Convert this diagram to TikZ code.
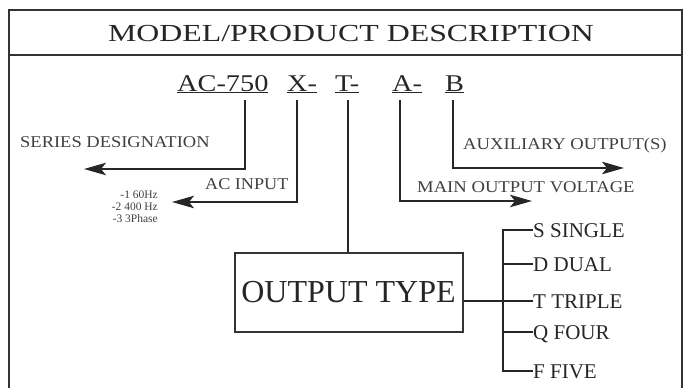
\documentclass[tikz,border=0pt]{standalone}
\usepackage{fontspec}
\setmainfont{Liberation Serif}
\usetikzlibrary{arrows.meta}
\newcommand{\hsx}[2]{\scalebox{#1}[1]{#2}}
\begin{document}
\begin{tikzpicture}[x=1pt,y=-1pt,
  txt/.style={inner sep=0pt,anchor=base west,text=black!88},
  ttl/.style={inner sep=0pt,anchor=base,font=\fontsize{24.5}{24.5}\selectfont,text=black!85},
  code/.style={inner sep=0pt,anchor=base west,font=\fontsize{24}{24}\selectfont,text=black!85},
  lab/.style={txt,font=\fontsize{16.5}{16.5}\selectfont,text=black!75},
  small/.style={inner sep=0pt,anchor=base east,font=\fontsize{11.5}{11.5}\selectfont,text=black!75},
  item/.style={txt,font=\fontsize{21}{21}\selectfont,text=black!85},
  ln/.style={line width=1.6pt,draw=black!85},
  arr/.style={ln,-{Stealth[length=22pt,width=12.5pt,inset=5pt]}},
  frm/.style={line width=1.8pt,draw=black!80}]
\useasboundingbox (0,0) rectangle (683,388);
\draw[frm] (9,395) -- (9,10) -- (682,10) -- (682,395);
\draw[frm] (9,55) -- (682,55);
\node[ttl] (title) at (351,41.5) {\hsx{1.3}{MODEL/PRODUCT DESCRIPTION}};
% code row
\node[code] (c1) at (177,91) {\hsx{1.18}{\underline{AC-750}}};
\node[code] (c2) at (287,91) {\hsx{1.18}{\underline{X-}}};
\node[code] (c3) at (335,91) {\hsx{1.18}{\underline{T-}}};
\node[code] (c4) at (392,91) {\hsx{1.18}{\underline{A-}}};
\node[code] (c5) at (445,91) {\hsx{1.18}{\underline{B}}};
% labels
\node[lab] (sd) at (20,147) {\hsx{1.12}{SERIES DESIGNATION}};
\node[lab] (aci) at (205,189) {\hsx{1.1}{AC INPUT}};
\node[lab] (aux) at (463,149) {\hsx{1.13}{AUXILIARY OUTPUT(S)}};
\node[lab] (mov) at (417,192) {\hsx{1.13}{MAIN OUTPUT VOLTAGE}};
\node[small] (h1) at (158,198) {-1 60Hz};
\node[small] (h2) at (158,210) {-2 400 Hz};
\node[small] (h3) at (158,222) {-3 3Phase};
% arrow tips
\coordinate (tsd) at (84,169);
\coordinate (taci) at (172,202);
\coordinate (tmov) at (532,201);
\coordinate (taux) at (624,168);
\coordinate (v1) at (245,100);
\coordinate (v2) at (297,100);
\coordinate (v3) at (348,100);
\coordinate (v4) at (400,100);
\coordinate (v5) at (453,100);
\draw[arr] (v1) |- (tsd);
\draw[arr] (v2) |- (taci);
\draw[arr] (v4) |- (tmov);
\draw[arr] (v5) |- (taux);
% output type box
\node[draw=black!80,line width=1.2pt,minimum width=228pt,minimum height=79pt,inner sep=0pt] (ot) at (349,292.5) {};
\node[inner sep=0pt,anchor=base,font=\fontsize{32}{32}\selectfont,text=black!85] (ott) at (348.5,302) {OUTPUT TYPE};
\draw[ln] (v3) -- (v3 |- ot.north);
% items
\node[item] (s) at (533,237) {S SINGLE};
\node[item] (d) at (533,271) {D DUAL};
\node[item] (t) at (533,308) {T TRIPLE};
\node[item] (q) at (533,339) {Q FOUR};
\node[item] (f) at (533,378) {F FIVE};
\coordinate (bus) at (503,301);
\draw[ln] (ot.east |- bus) -- (bus);
\draw[ln] (s.west |- 0,230) -| (503,371) -- (f.west |- 0,371);
\draw[ln] (503,264) -- (d.west |- 0,264);
\draw[ln] (503,301) -- (t.west |- 0,301);
\draw[ln] (503,332) -- (q.west |- 0,332);
\end{tikzpicture}
\end{document}
